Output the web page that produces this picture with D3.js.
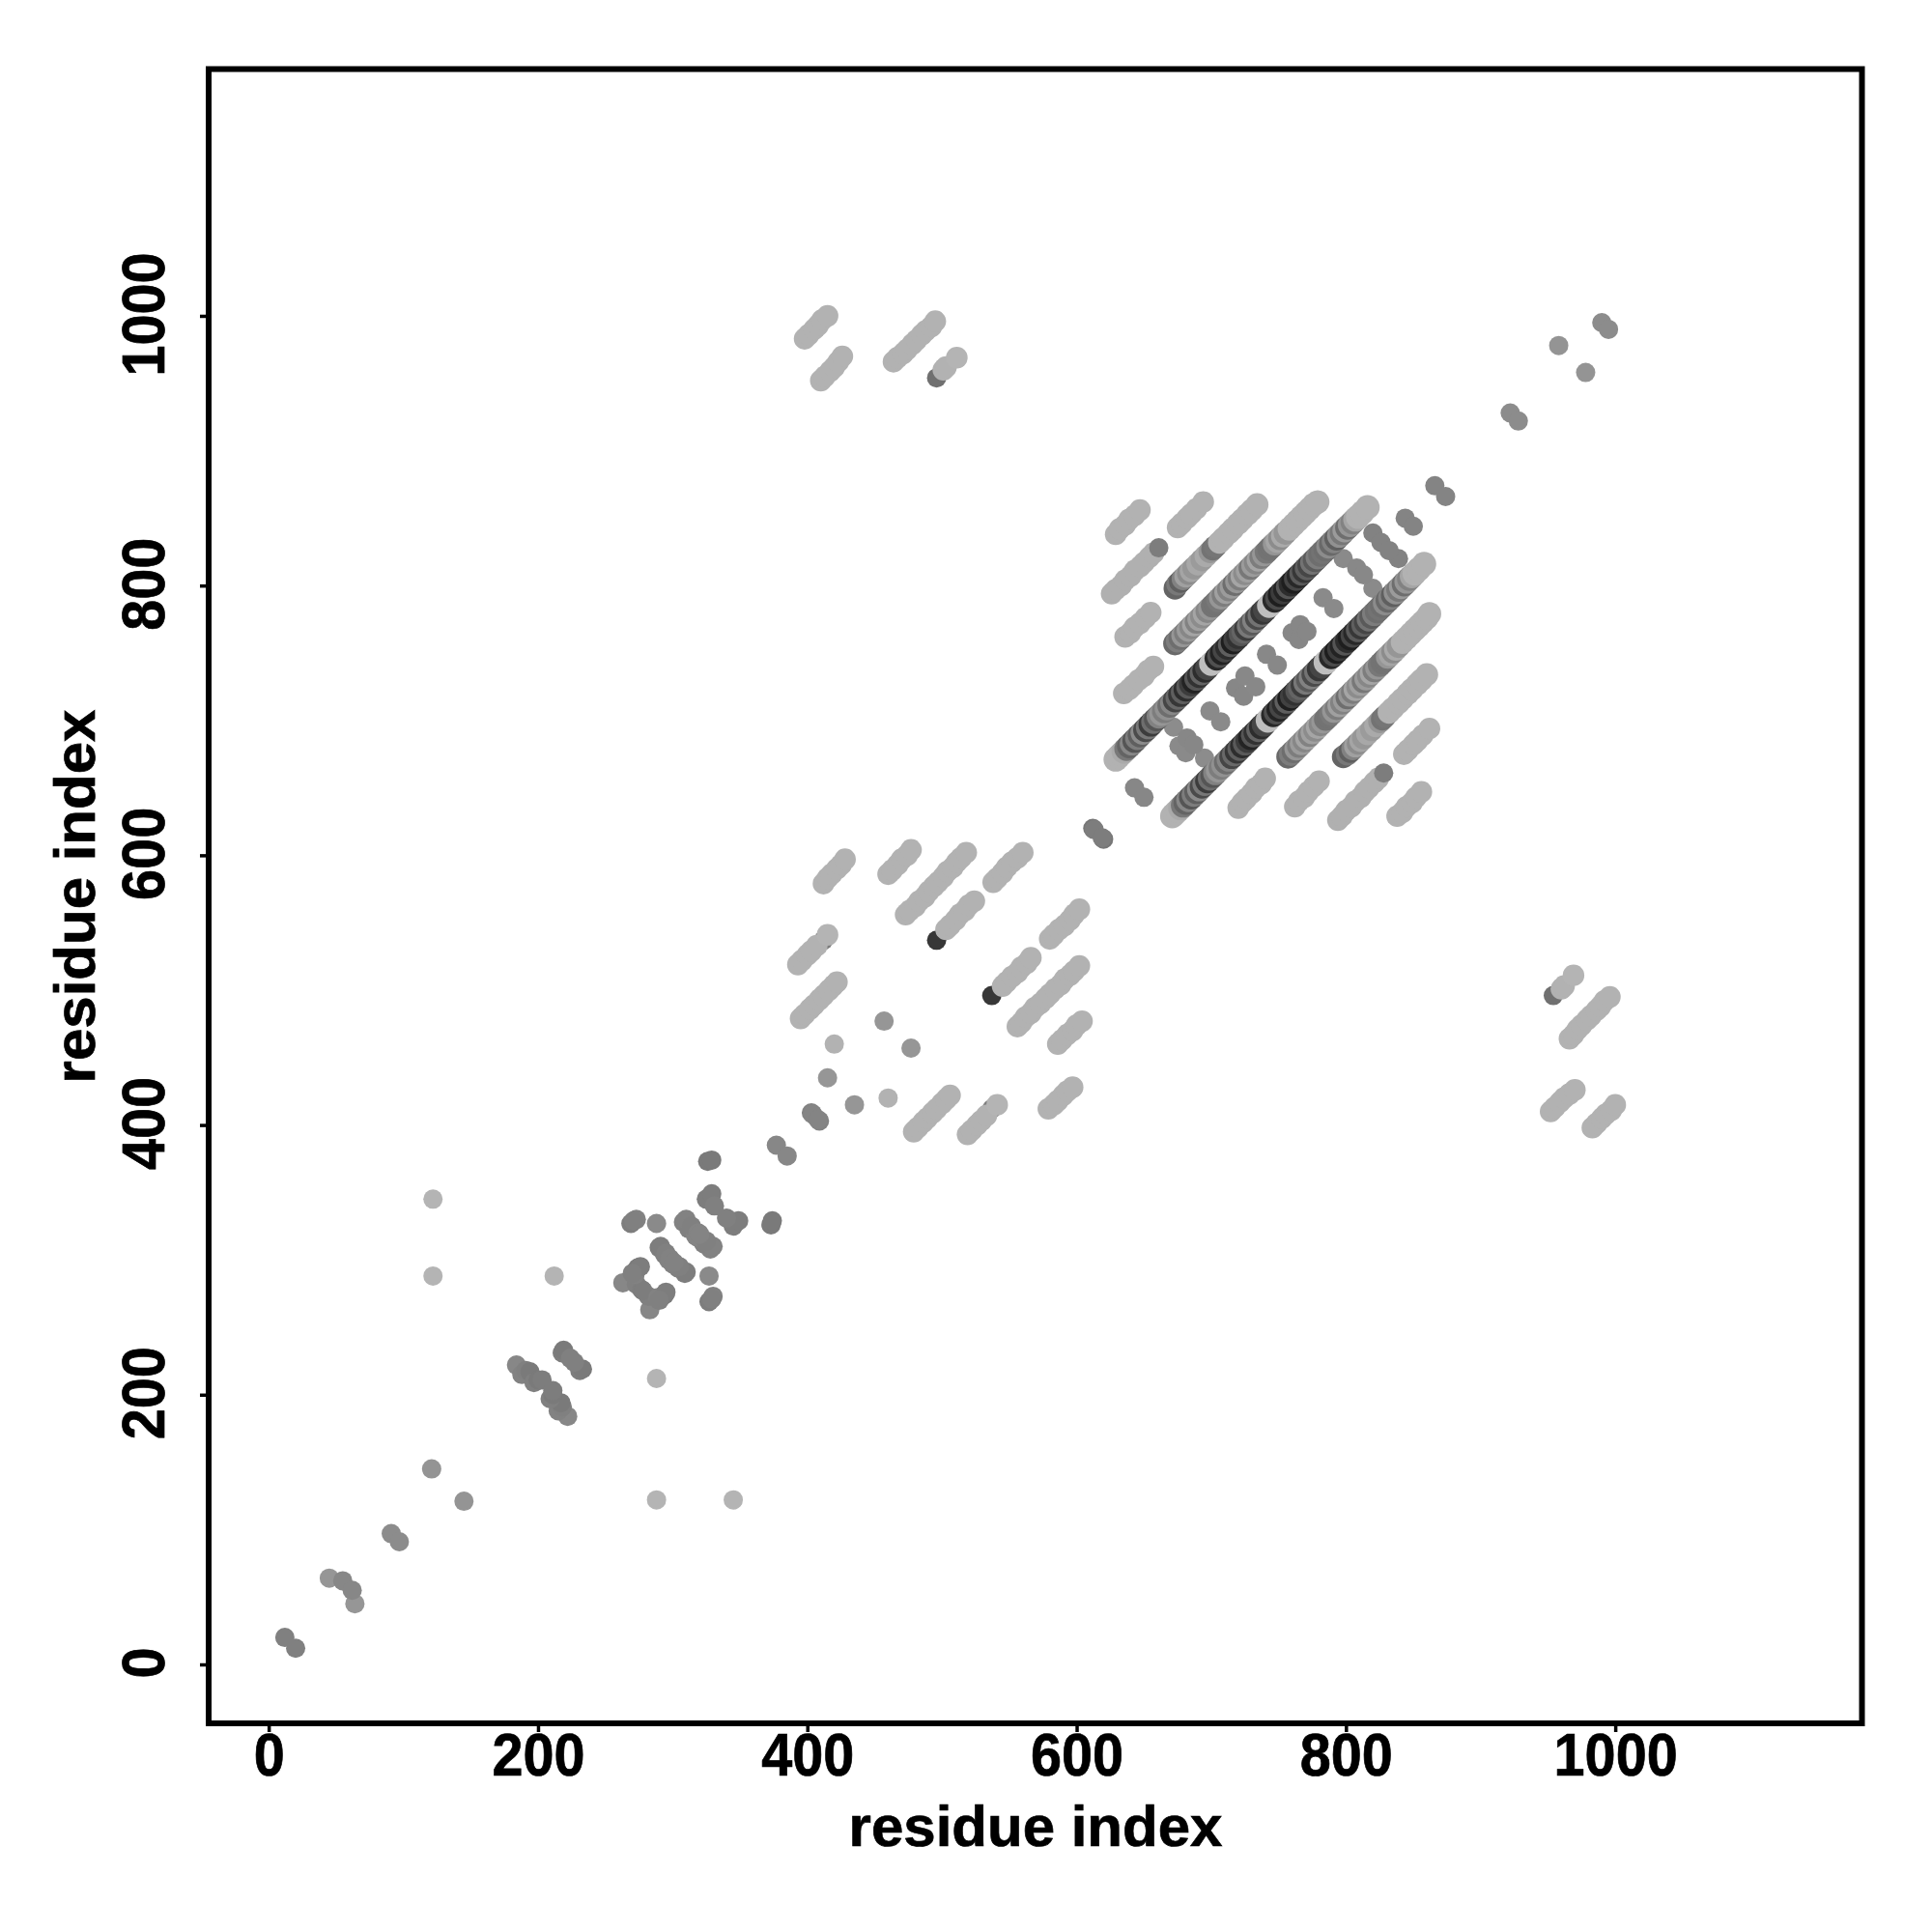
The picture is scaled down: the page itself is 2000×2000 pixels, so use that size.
<!DOCTYPE html>
<html><head><meta charset="utf-8">
<script src="https://cdn.jsdelivr.net/npm/d3@7"></script>
<style>html,body{margin:0;padding:0;background:#fff}svg{display:block}</style>
</head><body>
<svg id="chart" width="2000" height="2000"></svg>
<script>
const xTicks=[0,200,400,600,800,1000];
const yTicks=[0,200,400,600,800,1000];
const axisTitle="residue index";

// isolated contacts: residue i, residue j (drawn at both i,j and j,i), grey level
const soloI=[12,45,55,91,121,122,122,212,
 184,188,191,194,197,200,203,218,219,224,
 263,269,273,273,274,277,288,290,294,297,308,312,317,325,326,329,329,331,
 272,276,270,271,291,295,298,310,314,319,
 377,403,404,415,420,457,
 496,496,412,
 612,613,643,672,676,682,699,718,725,741,760,766,783,798,808,820,826,844,866,
 922,958,990];
const soloJ=[20,64,62,97,145,345,288,288,
 222,215,218,217,209,211,211,231,233,227,
 283,327,330,282,294,278,327,309,304,300,328,323,318,345,373,374,349,340,
 289,295,290,329,310,305,301,330,325,320,
 385,409,408,435,460,477,
 954,537,537,
 620,619,650,695,681,687,707,724,733,749,765,771,791,820,813,839,832,850,874,
 928,978,995];
const soloGray=[128,150,135,140,148,180,180,180,
 135,130,128,122,128,122,125,125,122,128,
 135,125,130,128,122,125,138,125,128,130,130,128,132,125,122,122,125,128,
 130,125,128,128,125,128,130,130,128,132,
 135,130,132,150,178,150,
 112,55,125,
 118,125,135,140,138,135,138,135,136,136,135,135,138,138,136,130,130,132,132,
 140,148,140];

// light helical contact stripes
const lightI=[629,632,636,639,643,647,
 675,678,682,685,689,694,
 626,629,633,636,640,643,647,650,654,657,
 636,640,643,647,651,655,
 635,639,642,646,650,653,657,
 398,401,405,408,411,415,
 410,413,417,420,423,426,
 464,467,471,474,478,481,485,488,492,495,
 501,503,511,
 412,415,418,422,425,428,
 460,463,467,470,474,477,
 473,476,480,483,487,490,494,497,501,504,508,511,514,518,
 538,541,545,548,552,556,560,
 503,506,510,513,517,520,524,
 393,396,400,403,407,415,
 395,398,402,405,409,412,416,419,422];
const lightJ=[838,842,845,849,852,856,
 843,846,850,853,857,862,
 794,797,800,804,807,811,814,817,821,824,
 762,765,769,772,776,780,
 720,723,726,730,733,737,740,
 983,986,990,993,997,1000,
 952,955,959,962,966,970,
 966,969,972,975,979,982,986,989,992,996,
 960,962,969,
 579,583,586,590,593,597,
 586,589,593,597,600,604,
 556,559,562,566,569,573,577,580,584,588,591,595,598,602,
 580,583,587,591,595,598,602,
 545,548,552,556,559,563,566,
 519,522,526,529,533,541,
 479,482,486,489,493,496,500,503,506];
const lightGray=[178,178,178,178,178,178,
 178,178,178,178,178,178,
 176,176,176,176,176,176,176,176,176,176,
 178,178,178,178,178,178,
 178,178,178,178,178,178,178,
 178,178,178,178,178,178,
 178,178,178,178,178,178,
 178,178,178,178,178,178,178,178,178,178,
 178,178,180,
 178,178,178,178,178,178,
 178,178,178,178,178,178,
 178,178,178,178,178,178,178,178,178,178,178,178,178,178,
 178,178,178,178,178,178,178,
 178,178,178,178,178,178,178,
 178,178,178,178,178,180,
 178,178,178,178,178,178,178,178,178];

// medium contact drawn over the end of a light stripe
const capI=[661];
const capJ=[828];
const capGray=[125];

// outer dense stripe (j about i+126)
const stripeCI=[673,675,677,679,681,683,685,687,690,693,696,699,701,703,706,709,713,716,720,723,727,730,734];
const stripeCJ=[798,801,803,805,807,809,811,813,816,819,822,825,827,829,832,835,839,842,846,849,853,856,860];
const stripeCGray=[100,120,95,130,160,140,165,150,168,155,170,150,115,118,178,178,178,178,178,178,178,178,178];

// middle dense stripe (j about i+83)
const stripeDI=[673,675,677,679,681,683,685,687,689,691,693,695,697,699,701,703,705,707,709,711,713,715,717,719,721,723,725,727,729,731,733,735,737,739,741,743,745,747,749,751,753,755,758,761,764,767,770,773,776,779];
const stripeDJ=[757,759,761,763,765,767,769,771,773,775,777,779,781,783,785,787,789,791,793,795,797,799,801,803,805,807,809,811,813,815,817,819,821,823,825,827,829,831,833,835,837,839,842,845,848,851,854,857,860,862];
const stripeDGray=[105,125,110,150,125,155,135,165,130,160,140,165,135,150,115,115,120,150,125,160,130,155,110,150,125,165,140,160,120,155,135,165,125,150,120,115,115,150,165,140,170,150,178,178,178,178,178,178,178,178];

// inner dense stripe (j about i+42)
const stripeEI=[629,631,633,635,637,639,641,643,645,647,649,651,653,655,657,659,661,663,665,667,669,671,673,675,677,679,681,683,685,687,689,691,693,695,697,700,704,706,708,710,712,714,716,718,720,722,724,726,728,730,732,734,736,738,740,743,747,749,751,753,755,757,759,761,763,765,767,769,771,773,775,777,779,781,783,785,787,789,791,793,795,797,799,801,803,805,807,809,812,816];
const stripeEJ=[671,673,675,677,679,681,683,685,687,689,691,693,695,697,699,701,703,705,707,709,711,713,715,717,719,721,723,725,727,729,731,733,735,737,739,742,746,748,750,752,754,756,758,760,762,764,766,768,770,772,774,776,778,780,782,785,789,791,793,795,797,799,801,803,805,807,809,811,813,815,817,819,821,823,825,827,829,831,833,835,837,839,841,843,845,847,849,851,854,858];
const stripeEGray=[178,178,178,170,120,100,135,85,125,95,140,75,120,60,110,85,130,150,125,145,110,135,70,105,55,95,45,90,60,35,85,50,100,45,70,190,40,80,35,70,45,95,30,65,50,85,100,60,120,90,130,75,115,55,70,190,40,75,30,60,35,85,45,30,70,40,90,55,95,70,115,90,125,110,115,110,140,105,130,95,145,120,155,110,150,130,165,178,178,178];

const x=d3.scaleLinear().domain([-44.6,1185]).range([216,1930]);
const y=d3.scaleLinear().domain([-43.7,1183]).range([1784,71.5]);
const svg=d3.select("#chart");
svg.append("rect").attr("width",2000).attr("height",2000).attr("fill","#fff");

function contacts(I,J,G,r){
  const out=[];
  I.forEach((v,k)=>{out.push({a:v,b:J[k],g:G[k],r});out.push({a:J[k],b:v,g:G[k],r});});
  return out;
}
const points=[].concat(
  contacts(soloI,soloJ,soloGray,10),
  contacts(lightI,lightJ,lightGray,11.2),
  contacts(capI,capJ,capGray,10),
  contacts(stripeCI,stripeCJ,stripeCGray,11.8),
  contacts(stripeDI,stripeDJ,stripeDGray,12.2),
  contacts(stripeEI,stripeEJ,stripeEGray,12.6)
);
svg.append("g").selectAll("circle").data(points).join("circle")
  .attr("cx",d=>x(d.a)).attr("cy",d=>y(d.b)).attr("r",d=>d.r)
  .attr("fill",d=>d3.rgb(d.g,d.g,d.g));

svg.append("rect").attr("x",216).attr("y",71.5).attr("width",1711.5).attr("height",1712.5)
  .attr("fill","none").attr("stroke","#000").attr("stroke-width",6);

const font="'Liberation Sans',Arial,sans-serif";
function styleLabel(sel){
  sel.attr("fill","#000").attr("stroke","#000").attr("stroke-width",0.7)
    .attr("font-family",font).attr("font-weight","bold").attr("font-size",60).attr("text-anchor","middle");
}
const gx=svg.append("g").attr("transform","translate(0,1784)")
  .call(d3.axisBottom(x).tickValues(xTicks).tickSize(9).tickFormat(d3.format("d")));
gx.select(".domain").remove();
gx.selectAll("line").attr("stroke","#000").attr("stroke-width",3.5);
gx.selectAll("text").attr("x",0).attr("y",0).attr("dy",0)
  .attr("transform","translate(0,54) scale(.96,1.04)").call(styleLabel);

const gy=svg.append("g").attr("transform","translate(216,0)")
  .call(d3.axisLeft(y).tickValues(yTicks).tickSize(9).tickFormat(d3.format("d")));
gy.select(".domain").remove();
gy.selectAll("line").attr("stroke","#000").attr("stroke-width",3.5);
gy.selectAll("text").attr("x",0).attr("dy",0).attr("y",0)
  .attr("transform","translate(-46,-2) rotate(-90) scale(.96,1.04)").call(styleLabel);

svg.append("text").attr("x",1072).attr("y",1911).call(styleLabel).text(axisTitle);
svg.append("text").attr("transform","translate(98,928) rotate(-90)").call(styleLabel).text(axisTitle);
</script>
</body></html>
